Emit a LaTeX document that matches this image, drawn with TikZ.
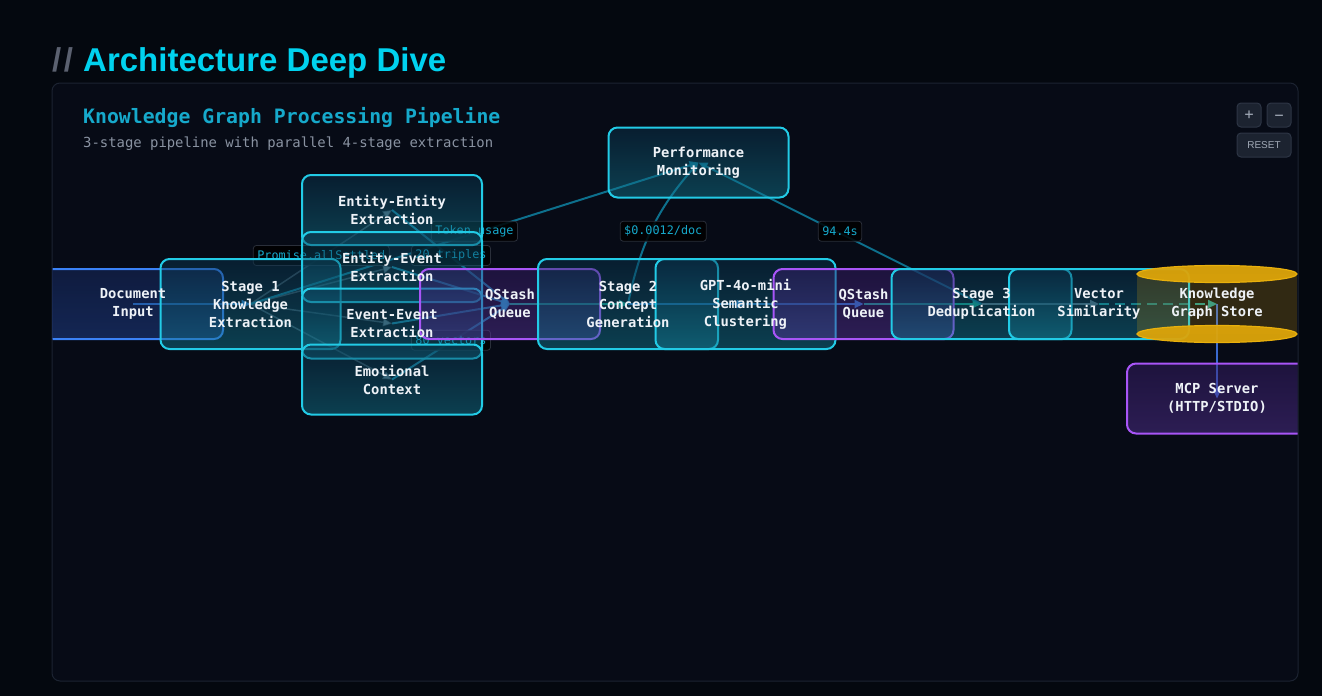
\documentclass[tikz,border=0pt]{standalone}
\usepackage{fontspec}
\setmainfont{DejaVu Sans Mono}
\newfontfamily\titlefont{Liberation Sans}
\usetikzlibrary{arrows.meta,calc,shapes.geometric}
\definecolor{bgout}{HTML}{04080F}
\definecolor{panelbg}{HTML}{070B16}
\definecolor{panelline}{HTML}{1C2331}
\definecolor{titlecyan}{HTML}{00D2EF}
\definecolor{slashgray}{HTML}{5B6170}
\definecolor{subcyan}{HTML}{16A9CB}
\definecolor{subgray}{HTML}{8A93A2}
\definecolor{cyanb}{HTML}{22CBE6}
\definecolor{cyantop}{HTML}{0A3550}
\definecolor{cyanbot}{HTML}{138098}
\definecolor{purpb}{HTML}{A855F7}
\definecolor{purptop}{HTML}{3A1E6E}
\definecolor{purpbot}{HTML}{5B34A0}
\definecolor{blueb}{HTML}{3B82F6}
\definecolor{bluetop}{HTML}{1A3070}
\definecolor{bluebot}{HTML}{2448A0}
\definecolor{gold}{HTML}{DDA50A}
\definecolor{goldline}{HTML}{E9B00C}
\definecolor{monline}{HTML}{0E7C9A}
\definecolor{fanline}{HTML}{5A7080}
\definecolor{extline}{HTML}{1EA6CC}
\definecolor{flowblue}{HTML}{2A7CCB}
\definecolor{flowteal}{HTML}{14A08A}
\definecolor{dashteal}{HTML}{1A9A9A}
\definecolor{kgblue}{HTML}{3A6AD0}
\definecolor{btnfill}{HTML}{1C2330}
\definecolor{btnline}{HTML}{2D3545}
\definecolor{btntext}{HTML}{A0A8B5}
\definecolor{lblline}{HTML}{2A2F3A}
\definecolor{nodetext}{HTML}{EEF2F7}
\tikzset{
  ph/.style={rectangle, minimum width=180pt, minimum height=70pt, inner sep=0pt},
  shell/.style={rectangle, rounded corners=9pt, line width=2pt, minimum width=180pt, minimum height=70pt, inner sep=0pt, fill opacity=0.45, draw opacity=1},
  tall/.style={minimum height=90pt},
  cbox/.style={shell, draw=cyanb, top color=cyantop, bottom color=cyanbot},
  pbox/.style={shell, draw=purpb, top color=purptop, bottom color=purpbot},
  bbox/.style={shell, draw=blueb, top color=bluetop, bottom color=bluebot},
  ntext/.style={align=center, text=nodetext, font=\fontsize{13.8}{18}\selectfont\bfseries, inner sep=0pt},
  tip/.style={-{Triangle[length=9pt,width=8pt]}},
  flow/.style={tip, line width=2pt},
  fan/.style={tip, line width=1.5pt, draw=fanline, draw opacity=0.6},
  ext/.style={tip, line width=2pt, draw=extline, draw opacity=0.75},
  mon/.style={tip, line width=2pt, draw=monline, draw opacity=0.9},
  lbl/.style={rectangle, rounded corners=3pt, fill=black, fill opacity=0.85, text opacity=1, draw=lblline, draw opacity=1, line width=0.8pt, text=subcyan, font=\fontsize{11.8}{12}\selectfont, inner xsep=4pt, inner ysep=0pt, minimum height=20pt},
  btn/.style={rectangle, rounded corners=4pt, fill=btnfill, draw=btnline, line width=1pt, text=btntext, minimum height=24pt, inner sep=0pt}
}
\begin{document}
\begin{tikzpicture}[x=1pt,y=-1pt]
\useasboundingbox (0,0) rectangle (1322,696);
\fill[bgout] (0,0) rectangle (1322,696);
% title
\node[anchor=base west, inner sep=0pt, font=\titlefont\fontsize{33}{36}\selectfont\bfseries, text=slashgray] (slash) at (52,71) {/\kern2.5pt/};
\node[anchor=base west, inner sep=0pt, font=\titlefont\fontsize{33}{36}\selectfont\bfseries, text=titlecyan] (title) at (83,71) {Architecture Deep Dive};
% panel
\draw[rounded corners=8pt, fill=panelbg, draw=panelline, line width=1pt] (52,83) rectangle (1298,681);
\node[anchor=base west, inner sep=0pt, text=subcyan, font=\fontsize{19.8}{22}\selectfont\bfseries] (sub1) at (83,123) {Knowledge Graph Processing Pipeline};
\node[anchor=base west, inner sep=0pt, text=subgray, font=\fontsize{13.9}{16}\selectfont] (sub2) at (83,147.5) {3-stage pipeline with parallel 4-stage extraction};
% buttons
\node[btn, minimum width=24pt, font=\fontsize{15}{15}\selectfont, text height=9pt, text depth=0pt] (plus) at (1249,115) {+};
\node[btn, minimum width=24pt, font=\fontsize{15}{15}\selectfont, text height=9pt, text depth=0pt] (minus) at (1279,115) {\raisebox{-1pt}{−}};
\node[btn, minimum width=54pt, font=\titlefont\fontsize{10}{10}\selectfont] (reset) at (1264,145) {RESET};
\begin{scope}
\clip[rounded corners=8pt] (52.5,83.5) rectangle (1297.5,680.5);
% node positions (shapes drawn later)
\node[ph] (doc) at (133,304) {};
\node[ph, tall] (stage1) at (250.5,304) {};
\node[ph] (ee) at (392,210) {};
\node[ph] (ev) at (392,267) {};
\node[ph] (evev) at (392,323.5) {};
\node[ph] (emo) at (392,379.5) {};
\node[ph] (q1) at (510,304) {};
\node[ph, tall] (stage2) at (628,304) {};
\node[ph, tall] (gpt) at (745.5,304) {};
\node[ph] (q2) at (863.5,304) {};
\node[ph] (stage3) at (981.5,304) {};
\node[ph] (vec) at (1099,304) {};
\node[ph, minimum width=160pt, minimum height=76pt] (kg) at (1217,304) {};
\node[ph] (mcp) at (1217,398.5) {};
\node[ph] (perf) at (698.5,162.5) {};
% edges
\draw[flow, draw=flowblue] (doc.center) -- (stage1.center);
\foreach \t in {ee,ev,evev,emo} \draw[fan] (stage1.center) -- (\t.center);
\foreach \s in {ee,ev,evev,emo} \draw[ext] (\s.center) -- (q1.center);
\draw[flow, draw=flowteal] (q1.center) -- (stage2.center);
\draw[flow, draw=flowblue] (stage2.center) -- (gpt.center);
\draw[flow, draw=flowblue] (gpt.center) -- (q2.center);
\draw[flow, draw=flowteal] (q2.center) -- (stage3.center);
\draw[flow, draw=fanline] (stage3.center) -- (vec.center);
\draw[flow, draw=dashteal, dash pattern=on 10pt off 6pt] (vec.center) -- (kg.center);
\draw[flow, draw=kgblue] (kg.center) -- (mcp.center);
\draw[mon] (stage1.center) -- (perf.center);
\draw[mon] (stage2.center) to[bend left=15] (perf.center);
\draw[mon] (stage3.center) -- (perf.center);
% labels
\node[lbl] (l1) at ($(stage1.center)!0.5!(ee.center)+(0,-1.5)$) {Promise.allSettled};
\node[lbl] (l2) at ($(ee.center)!0.5!(q1.center)+(0,-1.5)$) {20 triples};
\node[lbl] (l3) at ($(emo.center)!0.5!(q1.center)+(0,-1.5)$) {80 vectors};
\node[lbl] (l4) at ($(stage1.center)!0.5!(perf.center)+(0,-2)$) {Token usage};
\node[lbl] (l5) at ($(stage2.center)!0.5!(perf.center)+(0,-2)$) {\$0.0012/doc};
\node[lbl] (l6) at ($(stage3.center)!0.5!(perf.center)+(0,-2)$) {94.4s};
% boxes
\node[bbox] (doc-b) at (doc) {};
\node[cbox, tall] (stage1-b) at (stage1) {};
\node[cbox] (ee-b) at (ee) {};
\node[cbox] (ev-b) at (ev) {};
\node[cbox] (evev-b) at (evev) {};
\node[cbox] (emo-b) at (emo) {};
\node[pbox] (q1-b) at (q1) {};
\node[cbox, tall] (stage2-b) at (stage2) {};
\node[cbox, tall] (gpt-b) at (gpt) {};
\node[pbox] (q2-b) at (q2) {};
\node[cbox] (stage3-b) at (stage3) {};
\node[cbox] (vec-b) at (vec) {};
% cylinder
\fill[gold, fill opacity=0.2] (1137,274) rectangle (1297,334);
\draw[fill=gold, draw=goldline, line width=1.2pt, fill opacity=0.95] (1217,334) ellipse [x radius=80, y radius=8.5];
\draw[fill=gold, draw=goldline, line width=1.2pt, fill opacity=0.95] (1217,274) ellipse [x radius=80, y radius=8.5];
\node[pbox] (mcp-b) at (mcp) {};
\node[cbox] (perf-b) at (perf) {};
% texts
\node[ntext] (doc-t) at (doc) {Document\\Input};
\node[ntext] (stage1-t) at (stage1) {Stage 1\\Knowledge\\Extraction};
\node[ntext] (ee-t) at (ee) {Entity-Entity\\Extraction};
\node[ntext] (ev-t) at (ev) {Entity-Event\\Extraction};
\node[ntext] (evev-t) at (evev) {Event-Event\\Extraction};
\node[ntext] (emo-t) at (emo) {Emotional\\Context};
\node[ntext] (q1-t) at (q1) {QStash\\Queue};
\node[ntext] (stage2-t) at (stage2) {Stage 2\\Concept\\Generation};
\node[ntext] (gpt-t) at (gpt) {GPT-4o-mini\\Semantic\\Clustering};
\node[ntext] (q2-t) at (q2) {QStash\\Queue};
\node[ntext] (stage3-t) at (stage3) {Stage 3\\Deduplication};
\node[ntext] (vec-t) at (vec) {Vector\\Similarity};
\node[ntext] (kg-t) at (kg) {Knowledge\\Graph Store};
\node[ntext] (mcp-t) at (mcp) {MCP Server\\(HTTP/STDIO)};
\node[ntext] (perf-t) at (perf) {Performance\\Monitoring};
\end{scope}
\end{tikzpicture}
\end{document}
